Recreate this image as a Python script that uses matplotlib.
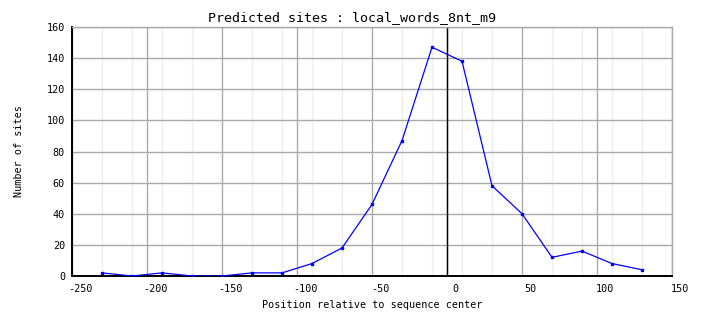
import matplotlib
matplotlib.use('Agg')
import matplotlib.pyplot as plt
from matplotlib.transforms import ScaledTranslation
import numpy as np

# data
positions = [-230, -210, -190, -170, -150, -130, -110, -90, -70, -50,
             -30, -10, 10, 30, 50, 70, 90, 110, 130]
n_sites = [2, 0, 2, 0, 0, 2, 2, 8, 18, 46,
           87, 147, 138, 58, 40, 12, 16, 8, 4]

x_ticks = [-250, -200, -150, -100, -50, 0, 50, 100, 150]
y_ticks = [0, 20, 40, 60, 80, 100, 120, 140, 160]

title = 'Predicted sites : local_words_8nt_m9'
x_label = 'Position relative to sequence center'
y_label = 'Number of sites'

plt.rcParams['font.family'] = ['DejaVu Sans Mono']
plt.rcParams['axes.unicode_minus'] = False

fig = plt.figure(figsize=(7.04, 3.28), dpi=100)
ax = fig.add_axes([72 / 704, 52 / 328, 600 / 704, 249 / 328])

# grille : mineure aux positions des points, majeure tous les 50
ax.set_xticks(positions, minor=True)
ax.grid(True, which='minor', axis='x', color='#eeeeee', linewidth=1, zorder=0)
ax.set_xticks(x_ticks)
ax.set_yticks(y_ticks)
ax.grid(True, which='major', color='#aaaaaa', linewidth=1, zorder=1)
ax.axvline(0, color='black', linewidth=1, zorder=2)

ax.plot(positions, n_sites, color='#0000ff', linewidth=0.9,
        marker='s', markersize=2, zorder=3)

ax.set_xlim(-250, 150)
ax.set_ylim(0, 160)

for side in ['top', 'right']:
    ax.spines[side].set_color('#aaaaaa')
    ax.spines[side].set_linewidth(1)
for side in ['left', 'bottom']:
    ax.spines[side].set_color('black')
    ax.spines[side].set_linewidth(1.4)

ax.tick_params(which='both', length=0, labelsize=7.3)
ax.tick_params(axis='x', pad=6)
ax.tick_params(axis='y', pad=5)

# labels x decales comme sur l'original
offset = ScaledTranslation(8 / 100, 0, fig.dpi_scale_trans)
for lab in ax.get_xticklabels():
    lab.set_transform(lab.get_transform() + offset)

ax.set_xlabel(x_label, fontsize=7.3, labelpad=4)
ax.set_ylabel(y_label, fontsize=7.3, labelpad=16)
fig.text(0.5, 1 - 18 / 328, title, ha='center', va='center', fontsize=9.6)

fig.savefig('out.png', dpi=100)
